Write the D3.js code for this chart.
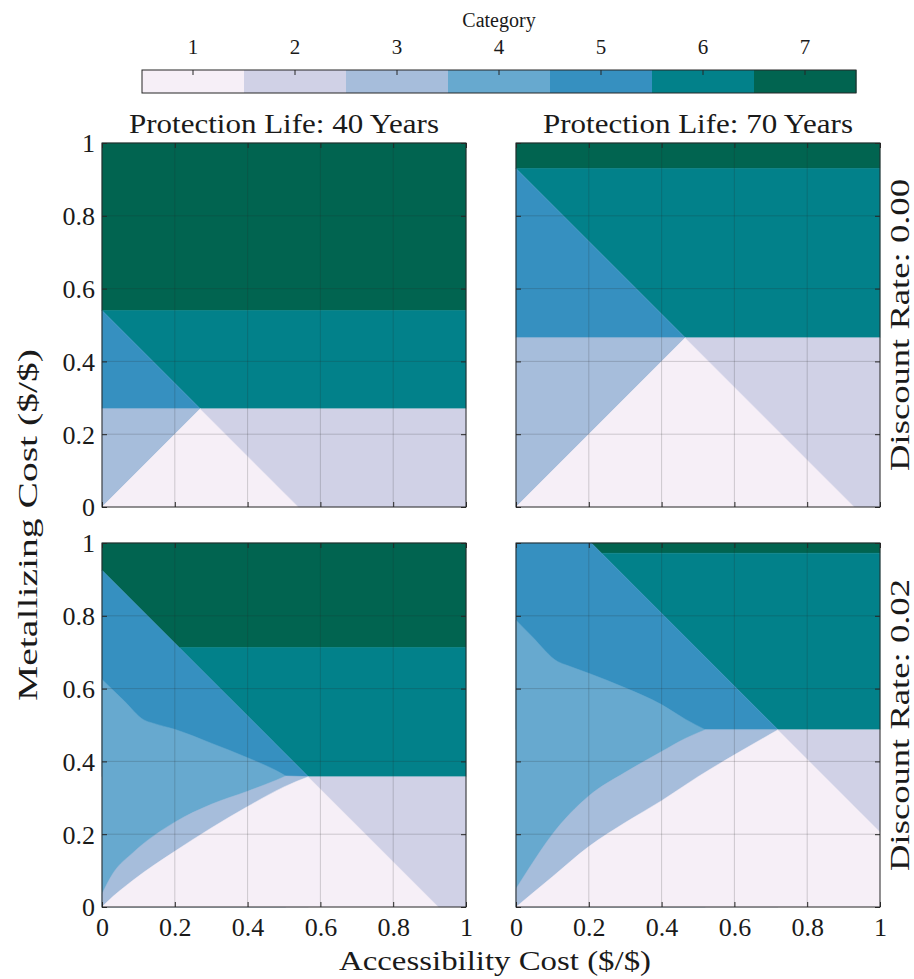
<!DOCTYPE html>
<html>
<head>
<meta charset="utf-8">
<script src="https://cdn.jsdelivr.net/npm/d3@7"></script>
<style>
  body { margin: 0; background: #ffffff; }
  svg text { font-family: "Liberation Serif", "Times New Roman", serif; fill: #1a1a1a; }
</style>
</head>
<body>
<svg id="chart" width="914" height="979"></svg>
<script>
// ---- Category scale (ColorBrewer PuBuGn, 7 classes) ----
const categories = [1, 2, 3, 4, 5, 6, 7];
const categoryColors = ["#f6eff7", "#d0d1e6", "#a6bddb", "#67a9cf", "#3690c0", "#02818a", "#016450"];

// ---- Facet labels ----
const protectionLives = [40, 70];
const discountRates = ["0.00", "0.02"];

// ---- Axis ticks ----
const tickValues = [0, 0.2, 0.4, 0.6, 0.8, 1];
const tickLabels = ["0", "0.2", "0.4", "0.6", "0.8", "1"];

// ---- Region layers, painted in order; points are [accessibility cost, metallizing cost] ----
// A layer is either a straight polygon (pts) or a smooth boundary (edge)
// followed by straight closing points (tail).

// Protection life 40 years, discount rate 0.00
const layersL40R00 = [
  { cat: 7, pts: [[0, 0.54], [1, 0.54], [1, 1], [0, 1]] },
  { cat: 6, pts: [[0.27, 0.27], [1, 0.27], [1, 0.54], [0, 0.54]] },
  { cat: 5, pts: [[0, 0.27], [0.27, 0.27], [0, 0.54]] },
  { cat: 3, pts: [[0, 0], [0.27, 0.27], [0, 0.27]] },
  { cat: 1, pts: [[0, 0], [0.54, 0], [0.27, 0.27]] },
  { cat: 2, pts: [[0.54, 0], [1, 0], [1, 0.27], [0.27, 0.27]] }
];

// Protection life 70 years, discount rate 0.00
const layersL70R00 = [
  { cat: 7, pts: [[0, 0.93], [1, 0.93], [1, 1], [0, 1]] },
  { cat: 6, pts: [[0.465, 0.465], [1, 0.465], [1, 0.93], [0, 0.93]] },
  { cat: 5, pts: [[0, 0.465], [0.465, 0.465], [0, 0.93]] },
  { cat: 3, pts: [[0, 0], [0.465, 0.465], [0, 0.465]] },
  { cat: 1, pts: [[0, 0], [0.93, 0], [0.465, 0.465]] },
  { cat: 2, pts: [[0.93, 0], [1, 0], [1, 0.465], [0.465, 0.465]] }
];

// Protection life 40 years, discount rate 0.02
const upperEdgeL40R02 = [[0, 0.625], [0.06, 0.567], [0.115, 0.514], [0.14, 0.505], [0.2, 0.488], [0.3, 0.45], [0.4, 0.41], [0.48, 0.374], [0.505, 0.36]];
const lowerEdgeL40R02 = [[0, 0.036], [0.03, 0.092], [0.086, 0.15], [0.2, 0.233], [0.3, 0.282], [0.4, 0.318], [0.48, 0.349], [0.505, 0.36]];
const floorEdgeL40R02 = [[0, 0], [0.013, 0.013], [0.086, 0.074], [0.2, 0.153], [0.3, 0.217], [0.4, 0.276], [0.5, 0.33], [0.567, 0.358]];
const layersL40R02 = [
  { cat: 7, pts: [[0, 1], [1, 1], [1, 0.713], [0.212, 0.713], [0, 0.925]] },
  { cat: 6, pts: [[0.212, 0.713], [1, 0.713], [1, 0.358], [0.567, 0.358]] },
  { cat: 5, pts: [[0, 0.925], [0.567, 0.358], [0, 0.358]] },
  { cat: 4, edge: upperEdgeL40R02, tail: [[0.505, 0], [0, 0]] },
  { cat: 3, edge: lowerEdgeL40R02, tail: [[0.567, 0.358], [0.567, 0], [0, 0]] },
  { cat: 1, edge: floorEdgeL40R02, tail: [[0.925, 0]] },
  { cat: 2, pts: [[0.567, 0.358], [1, 0.358], [1, 0], [0.925, 0]] }
];

// Protection life 70 years, discount rate 0.02
const upperEdgeL70R02 = [[0, 0.788], [0.044, 0.743], [0.115, 0.674], [0.14, 0.664], [0.2, 0.642], [0.3, 0.602], [0.4, 0.556], [0.465, 0.516], [0.52, 0.487]];
const lowerEdgeL70R02 = [[0, 0.05], [0.035, 0.105], [0.1, 0.2], [0.2, 0.305], [0.3, 0.37], [0.4, 0.427], [0.465, 0.463], [0.52, 0.487]];
const floorEdgeL70R02 = [[0, 0], [0.1, 0.083], [0.2, 0.166], [0.3, 0.232], [0.4, 0.292], [0.5, 0.358], [0.6, 0.418], [0.72, 0.487]];
const layersL70R02 = [
  { cat: 7, pts: [[0.207, 1], [1, 1], [1, 0.972], [0.235, 0.972]] },
  { cat: 6, pts: [[0.235, 0.972], [1, 0.972], [1, 0.487], [0.72, 0.487]] },
  { cat: 5, pts: [[0, 1], [0.207, 1], [0.72, 0.487], [0, 0.487]] },
  { cat: 4, edge: upperEdgeL70R02, tail: [[0.52, 0], [0, 0]] },
  { cat: 3, edge: lowerEdgeL70R02, tail: [[0.72, 0.487], [0.72, 0], [0, 0]] },
  { cat: 1, edge: floorEdgeL70R02, tail: [[1, 0.207], [1, 0]] },
  { cat: 2, pts: [[0.72, 0.487], [1, 0.487], [1, 0.207]] }
];

// ---- Layout ----
const svg = d3.select("#chart");
const panelSize = 364;
const colX = [102, 516];
const rowY = [143, 543];
const panels = [
  { row: 0, col: 0, layers: layersL40R00 },
  { row: 0, col: 1, layers: layersL70R00 },
  { row: 1, col: 0, layers: layersL40R02 },
  { row: 1, col: 1, layers: layersL70R02 }
];

const x = d3.scaleLinear().domain([0, 1]).range([0, panelSize]);
const y = d3.scaleLinear().domain([0, 1]).range([panelSize, 0]);
const color = d3.scaleOrdinal().domain(categories).range(categoryColors);
const straight = d3.line().x(d => x(d[0])).y(d => y(d[1]));
const smooth = d3.line().x(d => x(d[0])).y(d => y(d[1])).curve(d3.curveMonotoneX);

function layerPath(layer) {
  if (layer.pts) return straight(layer.pts) + "Z";
  const tail = layer.tail.map(p => `L${x(p[0])},${y(p[1])}`).join("");
  return smooth(layer.edge) + tail + "Z";
}

const frameColor = "#262626";

panels.forEach(p => {
  const g = svg.append("g").attr("transform", `translate(${colX[p.col]},${rowY[p.row]})`);

  g.selectAll("path.region")
    .data(p.layers)
    .join("path")
    .attr("class", "region")
    .attr("d", layerPath)
    .attr("fill", d => color(d.cat))
    .attr("stroke", d => color(d.cat))
    .attr("stroke-width", 0.5)
    .attr("stroke-linejoin", "round");

  // grid
  const inner = tickValues.filter(v => v > 0 && v < 1);
  g.selectAll("line.vgrid").data(inner).join("line")
    .attr("x1", d => x(d)).attr("x2", d => x(d))
    .attr("y1", 0).attr("y2", panelSize)
    .attr("stroke", frameColor).attr("stroke-opacity", 0.2).attr("stroke-width", 1);
  g.selectAll("line.hgrid").data(inner).join("line")
    .attr("y1", d => y(d)).attr("y2", d => y(d))
    .attr("x1", 0).attr("x2", panelSize)
    .attr("stroke", frameColor).attr("stroke-opacity", 0.2).attr("stroke-width", 1);

  // axes with inward ticks on all four sides
  const showY = p.col === 0;
  const showX = p.row === 1;
  const fmt = d => tickLabels[tickValues.indexOf(d)];

  const left = g.append("g").call(
    d3.axisLeft(y).tickValues(tickValues).tickSizeInner(-5).tickSizeOuter(0).tickPadding(7)
      .tickFormat(showY ? fmt : () => ""));
  const bottom = g.append("g").attr("transform", `translate(0,${panelSize})`).call(
    d3.axisBottom(x).tickValues(tickValues).tickSizeInner(-5).tickSizeOuter(0).tickPadding(10)
      .tickFormat(showX ? fmt : () => ""));
  const right = g.append("g").attr("transform", `translate(${panelSize},0)`).call(
    d3.axisRight(y).tickValues(tickValues).tickSizeInner(-5).tickSizeOuter(0).tickFormat(() => ""));
  const top = g.append("g").call(
    d3.axisTop(x).tickValues(tickValues).tickSizeInner(-5).tickSizeOuter(0).tickFormat(() => ""));

  [left, bottom, right, top].forEach(a => {
    a.select(".domain").remove();
    a.selectAll(".tick line").attr("stroke", frameColor);
    a.selectAll(".tick text")
      .attr("fill", "#1a1a1a")
      .style("font-family", '"Liberation Serif", serif')
      .style("font-size", "26px");
  });
  left.selectAll(".tick text").attr("dy", "0.34em");
  bottom.selectAll(".tick text").attr("dy", "0.72em");

  g.append("rect")
    .attr("width", panelSize).attr("height", panelSize)
    .attr("fill", "none").attr("stroke", frameColor).attr("stroke-width", 1);
});

// ---- Facet titles ----
protectionLives.forEach((life, i) => {
  svg.append("text")
    .attr("x", colX[i] + panelSize / 2).attr("y", 133)
    .attr("text-anchor", "middle")
    .style("font-size", "27px")
    .attr("textLength", 310).attr("lengthAdjust", "spacingAndGlyphs")
    .text(`Protection Life:  ${life} Years`);
});

discountRates.forEach((rate, i) => {
  svg.append("text")
    .attr("transform", `translate(909,${rowY[i] + panelSize / 2}) rotate(-90)`)
    .attr("text-anchor", "middle")
    .style("font-size", "27px")
    .attr("textLength", 292).attr("lengthAdjust", "spacingAndGlyphs")
    .text(`Discount Rate:  ${rate}`);
});

// ---- Axis titles ----
svg.append("text")
  .attr("x", (colX[0] + colX[1] + panelSize) / 2 + 4).attr("y", 970)
  .attr("text-anchor", "middle")
  .style("font-size", "28px")
  .attr("textLength", 312).attr("lengthAdjust", "spacingAndGlyphs")
  .text("Accessibility Cost ($/$)");

svg.append("text")
  .attr("transform", `translate(37,${(rowY[0] + rowY[1] + panelSize) / 2}) rotate(-90)`)
  .attr("text-anchor", "middle")
  .style("font-size", "28px")
  .attr("textLength", 352).attr("lengthAdjust", "spacingAndGlyphs")
  .text("Metallizing Cost ($/$)");

// ---- Colour bar ----
const cbX0 = 142, cbX1 = 856, cbY = 70, cbH = 23;
const cb = d3.scaleBand().domain(categories).range([cbX0, cbX1]).paddingInner(0);
const cbg = svg.append("g");
cbg.selectAll("rect.swatch").data(categories).join("rect")
  .attr("class", "swatch")
  .attr("x", d => cb(d)).attr("y", cbY)
  .attr("width", cb.bandwidth() + 0.5).attr("height", cbH)
  .attr("fill", d => color(d));
cbg.selectAll("line.cbtick").data(categories).join("line")
  .attr("x1", d => cb(d) + cb.bandwidth() / 2).attr("x2", d => cb(d) + cb.bandwidth() / 2)
  .attr("y1", cbY).attr("y2", cbY + 5)
  .attr("stroke", frameColor);
cbg.append("rect")
  .attr("x", cbX0).attr("y", cbY).attr("width", cbX1 - cbX0).attr("height", cbH)
  .attr("fill", "none").attr("stroke", frameColor).attr("stroke-width", 1);
cbg.selectAll("text.cblabel").data(categories).join("text")
  .attr("class", "cblabel")
  .attr("x", d => cb(d) + cb.bandwidth() / 2).attr("y", 54)
  .attr("text-anchor", "middle")
  .style("font-size", "21px")
  .text(d => d);
cbg.append("text")
  .attr("x", (cbX0 + cbX1) / 2).attr("y", 27)
  .attr("text-anchor", "middle")
  .style("font-size", "20px")
  .text("Category");
</script>
</body>
</html>
